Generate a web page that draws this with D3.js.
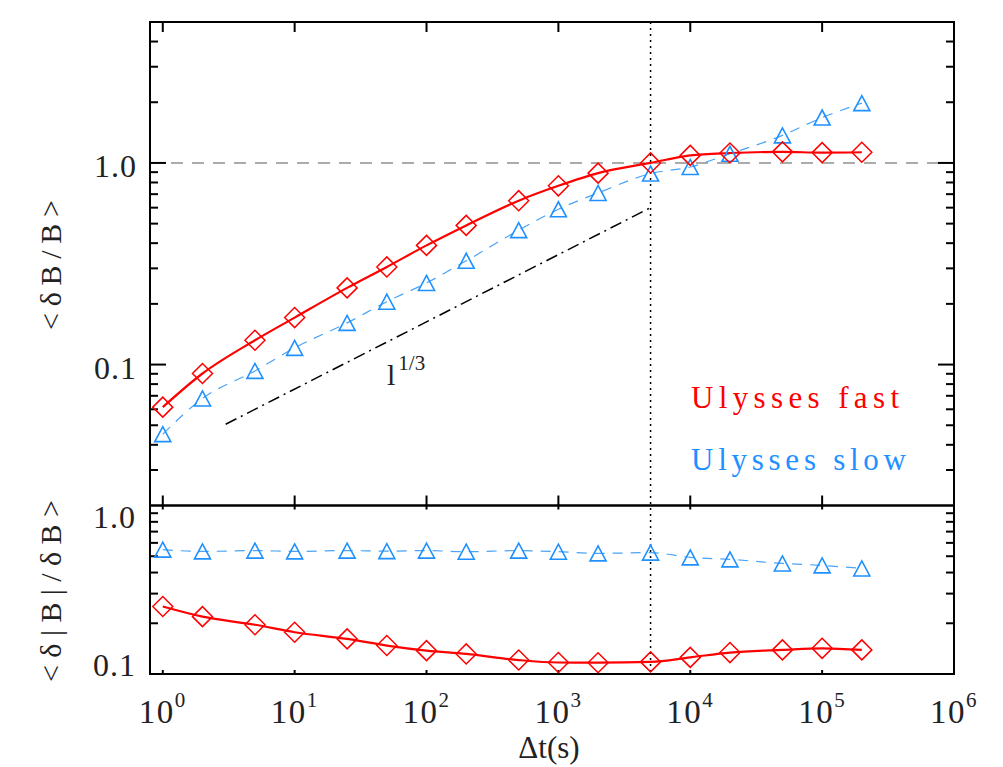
<!DOCTYPE html>
<html>
<head>
  <script src="https://cdnjs.cloudflare.com/ajax/libs/d3/7.8.5/d3.min.js" type="text/javascript"></script>
  <style>
    body { margin: 0; background: #fff; }
    svg { display: block; }
    text { font-family: "Liberation Serif", "DejaVu Serif", serif; fill: #222; }
  </style>
</head>
<body>
  <svg id="chart" width="1003" height="767"></svg>
  <script>

// time lags (s)
var lags = [1, 2, 5, 10, 25, 50, 100, 200, 500, 1000, 2000, 5000, 1e4, 2e4, 5e4, 1e5, 2e5];

// <dB/B>
var fastRatio = [0.0615, 0.0903, 0.132, 0.171, 0.240, 0.305, 0.39, 0.49, 0.65, 0.77, 0.89, 1.00, 1.09, 1.12, 1.135, 1.125, 1.13];
var slowRatio = [0.0452, 0.0679, 0.093, 0.121, 0.161, 0.205, 0.254, 0.327, 0.464, 0.589, 0.71, 0.886, 0.955, 1.11, 1.37, 1.68, 1.98];

// <d|B|/dB>
var fastComp = [0.2515, 0.219, 0.196, 0.177, 0.1616, 0.1475, 0.1376, 0.1316, 0.121, 0.117, 0.1167, 0.118, 0.1255, 0.134, 0.139, 0.142, 0.139];
var slowComp = [0.547, 0.534, 0.540, 0.534, 0.540, 0.536, 0.540, 0.532, 0.540, 0.532, 0.520, 0.525, 0.492, 0.479, 0.453, 0.441, 0.423];

var xTickExps = [0, 1, 2, 3, 4, 5, 6];
var topMajor = [0.1, 1.0];
var topLabels = ["0.1", "1.0"];
var botLabels = ["0.1", "1.0"];

// l^(1/3) reference line end points
var refLine = [[3, 0.0506], [5000, 0.600]];
var breakLag = 5000;

var red = "#ff0000", blue = "#1e90ff";

var svg = d3.select("#chart");

var x = d3.scaleLog().domain([0.8, 1e6]).range([150, 954]);
var yTop = d3.scaleLog().domain([0.02, 5]).range([505.5, 22]);
var yBot = d3.scaleLog().domain([0.1, 1.0]).range([674, 505.5]);

// minor ticks per decade
function logTicks(lo, hi) {
  var out = [];
  for (var e = -3; e <= 2; e++) {
    for (var m = 1; m < 10; m++) {
      var v = m * Math.pow(10, e);
      if (v > lo * 1.0001 && v < hi * 0.9999) out.push(v);
    }
  }
  return out;
}

function drawPanel(y, fast, slow, ticksTop, ticksBot, majors) {
  var g = svg.append("g");
  var x0 = x.range()[0], x1 = x.range()[1];
  var yb = y.range()[0], yt = y.range()[1];

  // y ticks both sides
  logTicks(y.domain()[0], y.domain()[1]).forEach(function(v) {
    var len = majors.indexOf(v) >= 0 || Math.abs(Math.log10(v) % 1) < 1e-9 ? 16 : 8;
    g.append("line").attr("x1", x0).attr("x2", x0 + len).attr("y1", y(v)).attr("y2", y(v))
      .attr("stroke", "#000").attr("stroke-width", 2);
    g.append("line").attr("x1", x1).attr("x2", x1 - len).attr("y1", y(v)).attr("y2", y(v))
      .attr("stroke", "#000").attr("stroke-width", 2);
  });

  // x ticks
  xTickExps.forEach(function(e) {
    var xv = x(Math.pow(10, e));
    g.append("line").attr("x1", xv).attr("x2", xv).attr("y1", yb).attr("y2", yb - ticksBot)
      .attr("stroke", "#000").attr("stroke-width", 2);
    g.append("line").attr("x1", xv).attr("x2", xv).attr("y1", yt).attr("y2", yt + ticksTop)
      .attr("stroke", "#000").attr("stroke-width", 2);
  });

  var line = function(vals) {
    return d3.line()
      .x(function(d, i) { return x(lags[i]); })
      .y(function(d) { return y(d); })
      .curve(d3.curveMonotoneX)(vals);
  };

  g.append("path").attr("d", line(slow)).attr("fill", "none")
    .attr("stroke", "#4aa3f5").attr("stroke-width", 1.2).attr("stroke-dasharray", "10,8");
  g.append("path").attr("d", line(fast)).attr("fill", "none")
    .attr("stroke", red).attr("stroke-width", 2.2);

  g.selectAll(".tri").data(slow).enter().append("path")
    .attr("d", function(d, i) {
      var cx = x(lags[i]), cy = y(d);
      return "M" + (cx - 8) + "," + (cy + 7.5) + "L" + cx + "," + (cy - 7.5) + "L" + (cx + 8) + "," + (cy + 7.5) + "Z";
    })
    .attr("fill", "none").attr("stroke", blue).attr("stroke-width", 1.6);

  g.selectAll(".dia").data(fast).enter().append("path")
    .attr("d", function(d, i) {
      var cx = x(lags[i]), cy = y(d), r = 10;
      return "M" + (cx - r) + "," + cy + "L" + cx + "," + (cy - r) + "L" + (cx + r) + "," + cy + "L" + cx + "," + (cy + r) + "Z";
    })
    .attr("fill", "none").attr("stroke", red).attr("stroke-width", 1.5);

  g.append("rect").attr("x", x0).attr("y", yt).attr("width", x1 - x0).attr("height", yb - yt)
    .attr("fill", "none").attr("stroke", "#000").attr("stroke-width", 2);
  return g;
}

// reference lines in top panel
svg.append("line")
  .attr("x1", x(0.8)).attr("x2", x(1e6)).attr("y1", yTop(1)).attr("y2", yTop(1))
  .attr("stroke", "#909090").attr("stroke-width", 1.5).attr("stroke-dasharray", "12,9");
svg.append("line")
  .attr("x1", x(refLine[0][0])).attr("y1", yTop(refLine[0][1]))
  .attr("x2", x(refLine[1][0])).attr("y2", yTop(refLine[1][1]))
  .attr("stroke", "#000").attr("stroke-width", 1.5).attr("stroke-dasharray", "12,5,2,5");
svg.append("line")
  .attr("x1", x(breakLag)).attr("x2", x(breakLag)).attr("y1", yTop(5)).attr("y2", yBot(0.1))
  .attr("stroke", "#000").attr("stroke-width", 1.5).attr("stroke-dasharray", "2,4");

drawPanel(yTop, fastRatio, slowRatio, 10, 10, topMajor);
drawPanel(yBot, fastComp, slowComp, 4, 4, []);

// y tick labels
topMajor.forEach(function(v, i) {
  svg.append("text").attr("x", 137).attr("y", yTop(v) + 14)
    .attr("text-anchor", "end").attr("font-size", 32).attr("letter-spacing", 1)
    .text(topLabels[i]);
});
svg.append("text").attr("x", 136).attr("y", yBot(1.0) + 22)
  .attr("text-anchor", "end").attr("font-size", 32).attr("letter-spacing", 1).text(botLabels[1]);
svg.append("text").attr("x", 136).attr("y", yBot(0.1) + 2)
  .attr("text-anchor", "end").attr("font-size", 32).attr("letter-spacing", 1).text(botLabels[0]);

// x tick labels
xTickExps.forEach(function(e) {
  var t = svg.append("text").attr("x", x(Math.pow(10, e))).attr("y", 723)
    .attr("text-anchor", "middle").attr("font-size", 33).attr("letter-spacing", 1.5);
  t.append("tspan").text("10");
  t.append("tspan").attr("dy", -16).attr("font-size", 21).text(e);
});

svg.append("text").attr("x", 549).attr("y", 758).attr("text-anchor", "middle")
  .attr("font-size", 31).text("\u0394t(s)");

svg.append("text").attr("transform", "translate(61,265) rotate(-90)")
  .attr("text-anchor", "middle").attr("font-size", 30)
  .attr("textLength", 130).attr("lengthAdjust", "spacing").text("<\u03b4B/B>");
svg.append("text").attr("transform", "translate(61,591) rotate(-90)")
  .attr("text-anchor", "middle").attr("font-size", 30)
  .attr("textLength", 182).attr("lengthAdjust", "spacing").text("<\u03b4|B|/\u03b4B>");

// slope label
var sl = svg.append("text").attr("x", 387).attr("y", 385).attr("font-size", 30);
sl.append("tspan").text("l");
sl.append("tspan").attr("dx", 3).attr("dy", -15).attr("font-size", 21).text("1/3");

// legend
svg.append("text").attr("x", 691).attr("y", 408).attr("font-size", 31).style("fill", red)
  .attr("textLength", 208).attr("lengthAdjust", "spacing").text("Ulysses fast");
svg.append("text").attr("x", 691).attr("y", 470).attr("font-size", 31).style("fill", blue)
  .attr("textLength", 215).attr("lengthAdjust", "spacing").text("Ulysses slow");

  </script>
</body>
</html>
